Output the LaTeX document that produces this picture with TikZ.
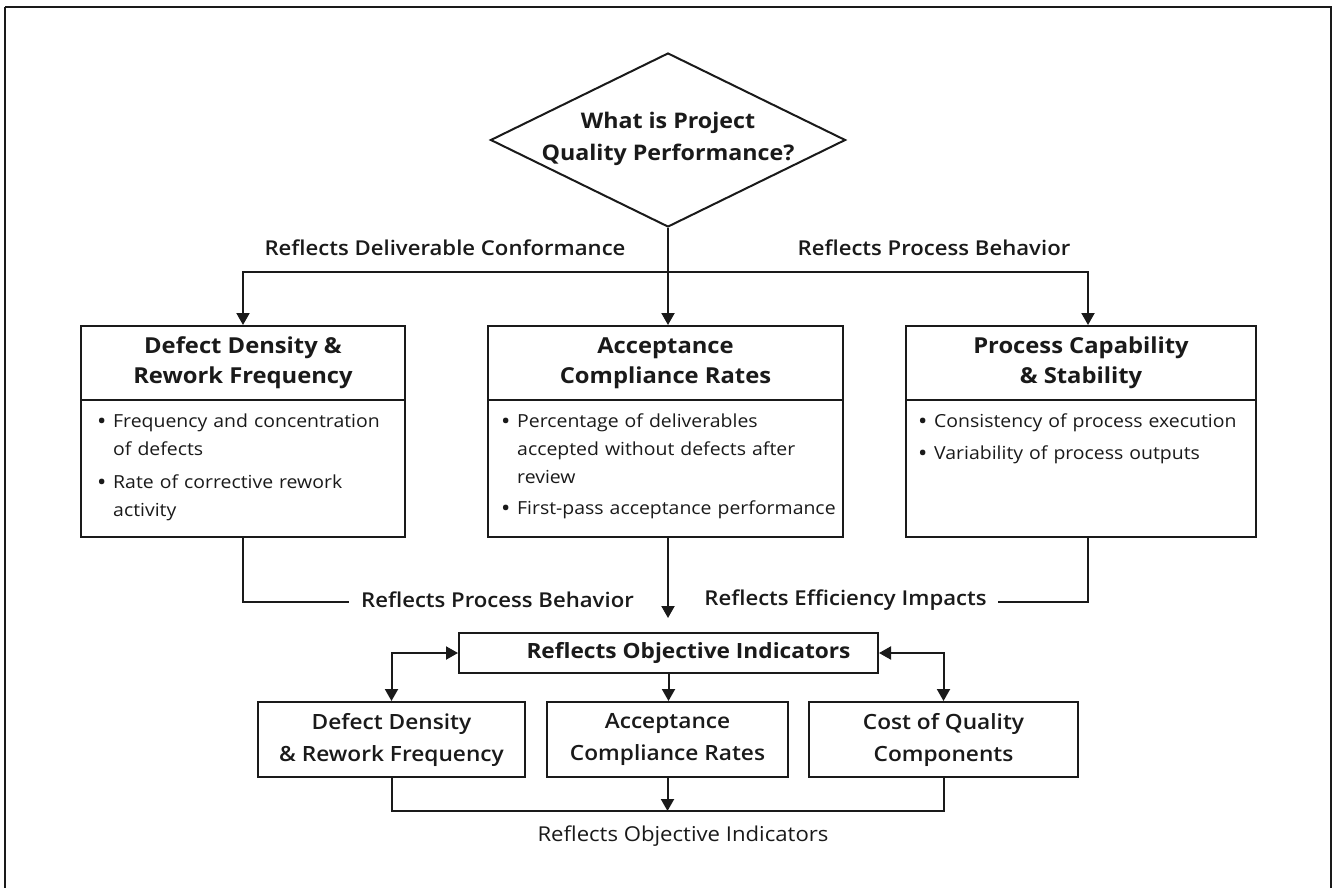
\documentclass[tikz,border=0pt]{standalone}
\usepackage{fontspec}
\setmainfont{Open Sans}[FakeStretch=1.08]
\IfFontExistsTF{Open Sans SemiBold}
  {\newfontfamily\semib{Open Sans SemiBold}[FakeStretch=1.08]}
  {\IfFontExistsTF{Open Sans Semibold}
    {\newfontfamily\semib{Open Sans Semibold}[FakeStretch=1.08]}
    {\newfontfamily\semib{Open Sans}[FakeStretch=1.08,FakeBold=1.2]}}
\usetikzlibrary{shapes.geometric,arrows.meta}
\definecolor{ink}{HTML}{1A1A1A}
\newcommand\bitem{\par\noindent\hangindent=15bp\hangafter=1\makebox[15bp][l]{\bfseries\textbullet}}

\tikzset{
  frameline/.style={draw=ink,line width=2bp},
  link/.style={draw=ink,line width=2bp},
  arr/.style={link,-{Triangle[width=13bp,length=12bp]}},
  darr/.style={link,{Triangle[width=13bp,length=12bp]}-{Triangle[width=13bp,length=12bp]}},
  headbox/.style={draw=ink,line width=2bp,inner sep=0,minimum height=74bp,align=center,
    text=ink,font=\bfseries\fontsize{22bp}{30bp}\selectfont},
  bodybox/.style={draw=ink,line width=2bp,inner sep=0,minimum height=137bp},
  bullets/.style={anchor=north west,inner sep=0,text width=340bp,text=ink,
    font=\fontsize{18bp}{28bp}\selectfont},
  lbl/.style={inner sep=0,text=ink,font=\semib\fontsize{20.5bp}{26bp}\selectfont},
  plainlbl/.style={inner sep=0,text=ink,font=\fontsize{20.5bp}{26bp}\selectfont},
  smallbox/.style={draw=ink,line width=2bp,inner sep=0,minimum height=75bp,align=center,
    text=ink,font=\semib\fontsize{21bp}{32bp}\selectfont},
}

\begin{document}
\begin{tikzpicture}[x=1bp,y=-1bp]
\useasboundingbox (0,0) rectangle (1336,887);
\fill[white] (0,0) rectangle (1336,887);

% outer frame
\draw[frameline] (5,7) -- (5,905) (5,7) -- (1331,7) -- (1331,905);

% question diamond
\node[diamond,draw=ink,line width=2bp,aspect=2.04,minimum width=355bp,minimum height=174bp,inner sep=0]
  (dq) at (668,140) {};
\node[align=center,inner sep=0,text=ink,font=\bfseries\fontsize{21.5bp}{32bp}\selectfont]
  (dqt) at (668,139) {What is Project\\Quality Performance?};

% top row: headers and bodies
\node[headbox,minimum width=324bp] (hd1) at (243,363) {Defect Density \&\\Rework Frequency};
\node[bodybox,minimum width=324bp] (bd1) at (243,468.5) {};
\node[headbox,minimum width=355bp] (hd2) at (665.5,363) {Acceptance\\Compliance Rates};
\node[bodybox,minimum width=355bp] (bd2) at (665.5,468.5) {};
\node[headbox,minimum width=350bp] (hd3) at (1081,363) {Process Capability\\\& Stability};
\node[bodybox,minimum width=350bp] (bd3) at (1081,468.5) {};

\node[bullets] (tx1) at (98,399) {\raggedright
  \bitem Frequency and concentration\newline of defects
  \par\vspace{5bp}\bitem Rate of corrective rework\newline activity\par};
\node[bullets] (tx2) at (502,399) {\raggedright
  \bitem Percentage of deliverables\newline accepted without defects after\newline review
  \par\vspace{3bp}\bitem First-pass acceptance performance\par};
\node[bullets] (tx3) at (919,399) {\raggedright
  \bitem Consistency of process execution
  \par\vspace{4bp}\bitem Variability of process outputs\par};

% branches from the question
\coordinate (split) at (668,272);
\draw[arr] (dq.south) -- (dq.south |- hd2.north);
\draw[arr] (split) -| (hd1.north);
\draw[arr] (split) -| ([xshift=7bp]hd3.north);
\node[lbl] (l1) at (445,248) {Reflects Deliverable Conformance};
\node[lbl] (l2) at (934,248) {Reflects Process Behavior};

% flows into the indicator box
\coordinate (lp) at (349,602);
\coordinate (rp) at (998,602);
\coordinate (mid) at (668,618);
\draw[link] (bd1.south) |- (lp);
\draw[link] ([xshift=7bp]bd3.south) |- (rp);
\draw[arr] (bd2.south -| mid) -- (mid);
\node[lbl] (l3) at (497.5,600) {Reflects Process Behavior};
\node[lbl] (l4) at (845.5,600) {Reflects Efficiency Impacts};

% objective indicators
\node[draw=ink,line width=2bp,inner sep=0,minimum width=419bp,minimum height=40bp,text=ink,
  font=\bfseries\fontsize{21bp}{26bp}\selectfont] (roi) at (668.5,653)
  {\hspace*{40bp}Reflects Objective Indicators};

\node[smallbox,minimum width=267bp] (bl) at (391.5,739.5) {Defect Density\\\& Rework Frequency};
\node[smallbox,minimum width=241bp] (bm) at (667.5,739.5) {Acceptance\\Compliance Rates};
\node[smallbox,minimum width=269bp] (br) at (943.5,739.5) {Cost of Quality\\Components};

\draw[darr] (bl.north) |- (roi.west);
\draw[darr] (br.north) |- (roi.east);
\draw[arr] (roi.south) -- (roi.south |- bm.north);

\coordinate (join) at (667.5,811);
\draw[link] (bl.south) |- (join) -| (br.south);
\draw[arr] (bm.south) -- (join);
\node[plainlbl] (l5) at (683,836) {Reflects Objective Indicators};
\end{tikzpicture}
\end{document}
